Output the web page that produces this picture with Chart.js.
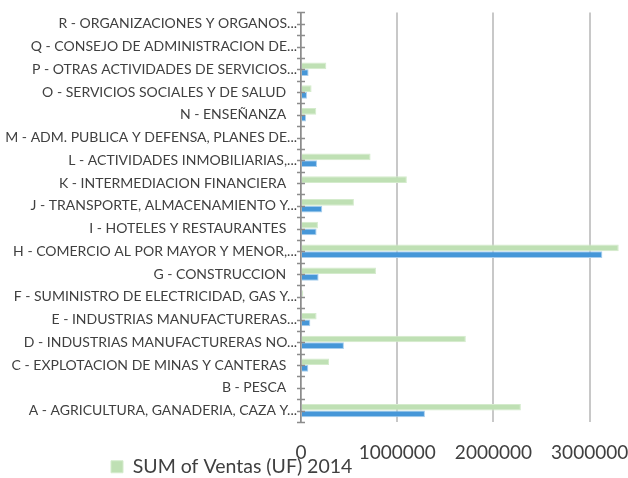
<!DOCTYPE html>
<html>
<head>
<meta charset="utf-8">
<script src="https://cdn.jsdelivr.net/npm/chart.js@4.4.0/dist/chart.umd.min.js"></script>
<style>
  html, body { margin: 0; padding: 0; background: #fff; }
  #wrap { width: 628px; height: 478px; position: relative; }
</style>
</head>
<body>
<div id="wrap"><canvas id="ventas"></canvas></div>
<script>
// rubros, de arriba hacia abajo
const sectores = [
  'R - ORGANIZACIONES Y ORGANOS...',
  'Q - CONSEJO DE ADMINISTRACION DE...',
  'P - OTRAS ACTIVIDADES DE SERVICIOS...',
  'O - SERVICIOS SOCIALES Y DE SALUD   ',
  'N - ENSEÑANZA   ',
  'M - ADM. PUBLICA Y DEFENSA, PLANES DE...',
  'L - ACTIVIDADES INMOBILIARIAS,...',
  'K - INTERMEDIACION FINANCIERA   ',
  'J - TRANSPORTE, ALMACENAMIENTO Y...',
  'I - HOTELES Y RESTAURANTES   ',
  'H - COMERCIO AL POR MAYOR Y MENOR,...',
  'G - CONSTRUCCION   ',
  'F - SUMINISTRO DE ELECTRICIDAD, GAS Y...',
  'E - INDUSTRIAS MANUFACTURERAS...',
  'D - INDUSTRIAS MANUFACTURERAS NO...',
  'C - EXPLOTACION DE MINAS Y CANTERAS   ',
  'B - PESCA   ',
  'A - AGRICULTURA, GANADERIA, CAZA Y...'
];

const ventas2014 = [0, 0, 263000, 110000, 159000, 0, 723000, 1100000, 550000, 176000,
  3302000, 779000, 24000, 162000, 1713000, 291000, 0, 2285000];
const ventas2015 = [0, 0, 79000, 62000, 52000, 0, 166000, 0, 221000, 162000,
  3132000, 183000, 10000, 97000, 446000, 76000, 0, 1288000];

const ticksX = [0, 1000000, 2000000, 3000000];

const textoGris = '#404040';
const ejeGris = '#8c8c8c';

// leyenda: corrida a la izquierda y encima del borde inferior del eje
const leyendaPos = {
  id: 'leyendaPos',
  afterLayout(chart) {
    if (!chart.legend) return;
    chart.legend.left = 107;
    chart.legend.top = 453;
  }
};

// marcas que cruzan el eje vertical, cada media categoria
const marcasEje = {
  id: 'marcasEje',
  afterDatasetsDraw(chart) {
    const y = chart.scales.y;
    const x0 = chart.scales.x.getPixelForValue(0);
    const ctx = chart.ctx;
    ctx.save();
    ctx.strokeStyle = ejeGris;
    ctx.lineWidth = 1.5;
    ctx.beginPath();
    for (let k = -0.5; k <= sectores.length - 0.5; k += 0.5) {
      const py = Math.round(y.getPixelForValue(k)) + 0.5;
      ctx.moveTo(x0 - 4, py);
      ctx.lineTo(x0 + 4, py);
    }
    ctx.stroke();
    ctx.restore();
  }
};

new Chart(document.getElementById('ventas'), {
  type: 'bar',
  data: {
    labels: sectores,
    datasets: [
      {
        label: 'SUM of Ventas (UF) 2014',
        data: ventas2014,
        backgroundColor: '#bfe0b4',
        borderColor: '#d4ebcc',
        borderWidth: 1,
        borderSkipped: 'start'
      },
      {
        label: 'SUM of Ventas (UF) 2015',
        data: ventas2015,
        backgroundColor: '#4697d8',
        borderColor: '#a9cfee',
        borderWidth: 1,
        borderSkipped: 'start'
      }
    ]
  },
  options: {
    indexAxis: 'y',
    responsive: true,
    maintainAspectRatio: false,
    animation: false,
    layout: { padding: { top: 9, right: 1, left: 0, bottom: 0 } },
    datasets: {
      bar: { categoryPercentage: 0.59, barPercentage: 1 }
    },
    scales: {
      x: {
        min: 0,
        max: 3388000,
        afterBuildTicks(scale) {
          scale.ticks = ticksX.map(v => ({ value: v }));
        },
        afterFit(scale) {
          scale.height = 40;
          scale.paddingLeft = 0;
          scale.paddingRight = 0;
        },
        grid: {
          color: '#c8c8c8',
          lineWidth: 2,
          drawTicks: false
        },
        border: { display: false },
        ticks: {
          color: textoGris,
          padding: 19,
          maxRotation: 0,
          font: { family: 'Lato', size: 19 },
          callback: v => String(v)
        }
      },
      y: {
        afterFit(scale) { scale.width = 301; },
        grid: { display: false, drawTicks: false },
        border: { display: true, color: ejeGris, width: 1.5 },
        ticks: {
          color: textoGris,
          padding: 4,
          autoSkip: false,
          font: { family: 'Lato', size: 14 }
        }
      }
    },
    plugins: {
      legend: {
        position: 'bottom',
        align: 'start',
        maxHeight: 16,
        labels: {
          boxWidth: 12,
          boxHeight: 12,
          padding: 4,
          color: textoGris,
          font: { family: 'Lato', size: 19.5 },
          filter: item => item.datasetIndex === 0
        }
      },
      tooltip: { enabled: false }
    }
  },
  plugins: [leyendaPos, marcasEje]
});
</script>
</body>
</html>
